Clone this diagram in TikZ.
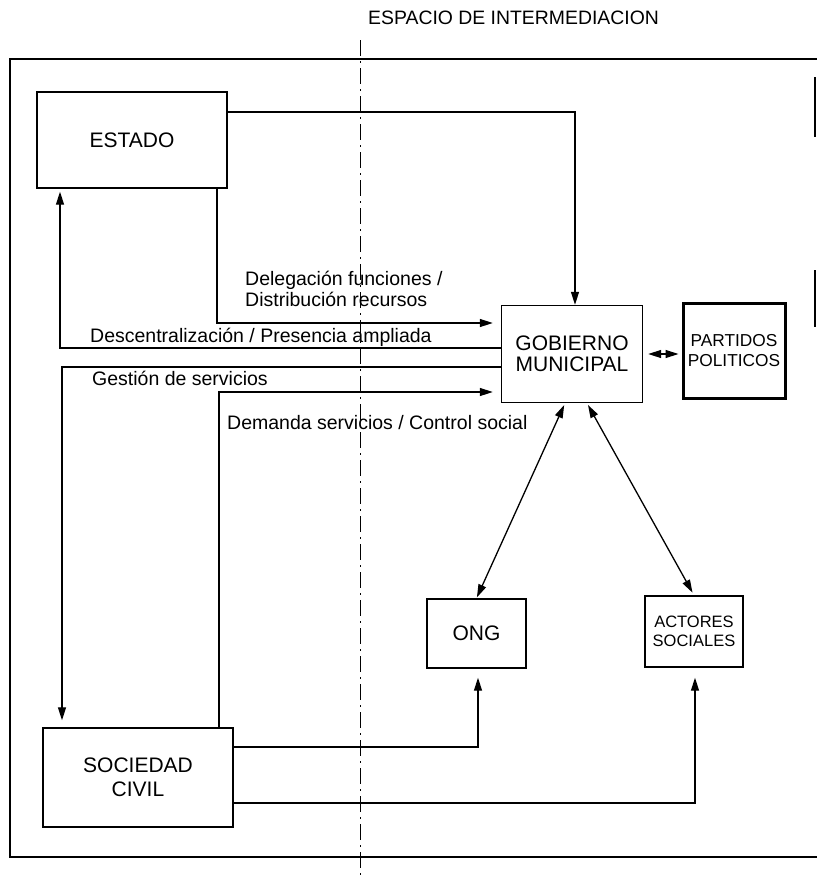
\documentclass[tikz,border=0pt]{standalone}
\usepackage{fontspec}
\setmainfont{Liberation Sans}
\usetikzlibrary{arrows.meta}
\begin{document}
\begin{tikzpicture}[x=1pt,y=-1pt,
  box/.style={draw, line width=1.4pt, inner sep=0pt, align=center},
  bigtext/.style={font=\fontsize{21}{21}\selectfont},
  lbl/.style={inner sep=0pt, anchor=west, align=left, font=\fontsize{19.5}{21}\selectfont},
  conn/.style={line width=1.3pt},
  arr/.style={conn, -{Triangle[length=13pt,width=8pt]}},
  darr/.style={conn, {Triangle[length=13pt,width=8pt]}-{Triangle[length=13pt,width=8pt]}},
  divline/.style={line width=1pt, dash pattern=on 16pt off 5pt on 2pt off 5pt},
  frame/.style={line width=1.6pt}]
\useasboundingbox (0,0) rectangle (817,876);

% title and dividing line
\node[lbl, font=\fontsize{19.4}{21}\selectfont] (title) at (368,18) {ESPACIO DE INTERMEDIACION};
\draw[divline] (360,40) -- (360,876);

% outer frame
\draw[frame] (817,59) -- (10,59) -- (10,857) -- (817,857);
\draw[frame] (815,77) -- (815,137);
\draw[frame] (815,270) -- (815,327);

% boxes
\node[box, bigtext, minimum width=190pt, minimum height=96pt] (estado) at (132,140) {ESTADO};
\node[box, bigtext, minimum width=141pt, minimum height=97pt] (gob) at (572,354) {GOBIERNO\\MUNICIPAL};
\node[box, line width=3pt, font=\fontsize{17.3}{20}\selectfont, minimum width=102pt, minimum height=95pt] (partidos) at (734,350.5) {PARTIDOS\\POLITICOS};
\node[box, bigtext, minimum width=99pt, minimum height=69pt] (ong) at (476.5,633.5) {ONG};
\node[box, font=\fontsize{16.5}{19}\selectfont, minimum width=98pt, minimum height=71pt] (actores) at (694,631.5) {ACTORES\\SOCIALES};
\node[box, font=\fontsize{21}{24}\selectfont, minimum width=190pt, minimum height=99pt] (sociedad) at (138,777.5) {SOCIEDAD\\CIVIL};

% labels
\node[lbl] (delegacion) at (245,288.5) {Delegación funciones /\\Distribución recursos};
\node[lbl] (descent) at (90,337) {Descentralización / Presencia ampliada};
\node[lbl] (gestion) at (92,378) {Gestión de servicios};
\node[lbl] (demanda) at (227,423) {Demanda servicios / Control social};

% connectors
\draw[arr] ([yshift=28pt]estado.east) -| ([xshift=3pt]gob.north);
\draw[arr, shorten >=8pt] ([xshift=85pt]estado.south) |- ([yshift=31pt]gob.west);
\draw[arr, shorten >=3pt] ([yshift=6pt]gob.west) -| ([xshift=-72pt]estado.south);
\draw[arr, shorten >=7pt] ([yshift=-13pt]gob.west) -| ([xshift=-76pt]sociedad.north);
\draw[arr, shorten >=8pt] ([xshift=81pt]sociedad.north) |- ([yshift=-38pt]gob.west);
\draw[arr, shorten >=9pt] ([yshift=30.5pt]sociedad.east) -| ([xshift=1.5pt]ong.south);
\draw[arr, shorten >=10pt] ([yshift=-25.5pt]sociedad.east) -| ([xshift=1pt]actores.south);
\draw[darr, shorten <=5pt, shorten >=3pt] (gob.east) -- (gob.east -| partidos.west);
\draw[darr, shorten <=2pt, shorten >=1pt] ([xshift=-7pt]gob.south) -- (ong.north);
\draw[darr, shorten <=2pt, shorten >=3pt] ([xshift=15pt]gob.south) -- (actores.north);
\end{tikzpicture}
\end{document}
